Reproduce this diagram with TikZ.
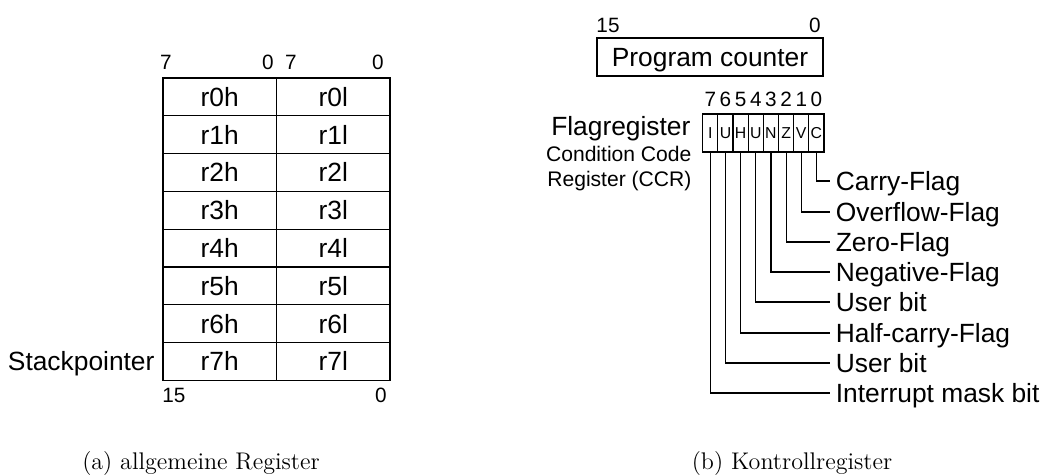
\documentclass[tikz,border=0pt]{standalone}
\usepackage{fontspec}
\setsansfont{Liberation Sans}
\usetikzlibrary{positioning}

\begin{document}
\begin{tikzpicture}[x=0.02cm, y=-0.02cm, line width=0.65pt,
  lbl/.style={font=\sffamily\fontsize{15}{17}\selectfont, inner sep=0pt,
              text height=10.7pt, text depth=0pt},
  num/.style={font=\sffamily\fontsize{11.8}{13}\selectfont, inner sep=0pt},
  cell/.style={draw, lbl, minimum width=2.27cm, minimum height=0.756cm,
               outer sep=0pt, anchor=north west},
  bitbox/.style={draw, font=\sffamily\fontsize{9}{10}\selectfont, inner sep=0pt,
                 minimum width=0.3032cm, minimum height=0.76cm, outer sep=0pt},
  captxt/.style={font=\fontsize{13.7}{16}\selectfont, inner sep=0pt}]
\useasboundingbox (0,0) rectangle (1047,475);

% allgemeine Register
\foreach \i in {0,...,7}{
  \node[cell] (h\i) at (163,{78+37.8*\i}) {r\i h};
  \node[cell] (l\i) at (h\i.north east) {r\i l};
}
\node[num] (hhi) at (166,62.5) {7};
\node[num] (hlo) at (268,62.5) {0};
\node[num] (lhi) at (291,62.5) {7};
\node[num] (llo) at (378,62.5) {0};
\node[num] (sphi) at (174,395) {15};
\node[num] (splo) at (381,395) {0};
\node[lbl, base left=0.16cm of h7] (sp) {Stackpointer};

% Kontrollregister
\node[draw, lbl, minimum width=4.52cm, minimum height=0.76cm] (pc) at (710,57)
  {Program counter};
\node[num] (pchi) at (608,25) {15};
\node[num] (pclo) at (815,25) {0};

\node[lbl, anchor=east] (fr) at (691,126) {Flagregister};
\node[font=\sffamily\fontsize{12}{14.2}\selectfont, align=right, inner sep=0pt,
      anchor=north east] (ccr) at (692,146) {Condition Code\\Register (CCR)};

\foreach \b/\t/\y/\txt in {7/I/393/Interrupt mask bit, 6/U/363/User bit,
    5/H/333/Half-carry-Flag, 4/U/302/User bit, 3/N/272/Negative-Flag,
    2/Z/242/Zero-Flag, 1/V/212/Overflow-Flag, 0/C/181/Carry-Flag}{
  \node[bitbox] (f\b) at ({710.3+(7-\b)*15.16},133) {\t};
  \node[num] (n\b) at ({710.3+(7-\b)*15.16},99.5) {\b};
  \node[lbl, anchor=west, inner xsep=3pt] (t\b) at (830,\y) {\txt};
  \draw (f\b) |- (t\b);
}

% captions
\node[captxt] (capa) at (201,463.5) {(a) allgemeine Register};
\node[captxt] (capb) at (792,463.5) {(b) Kontrollregister};
\end{tikzpicture}
\end{document}
